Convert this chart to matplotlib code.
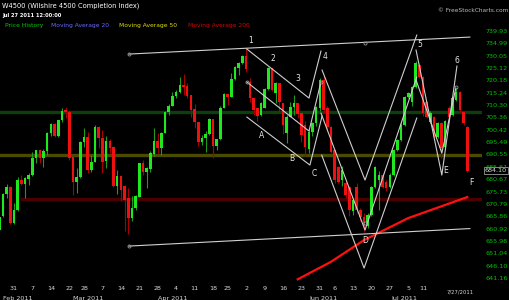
import numpy as np
import pandas as pd
import matplotlib
matplotlib.use("Agg")
import matplotlib.pyplot as plt

# === DATA ===
holidays = ['2011-02-21', '2011-04-22', '2011-05-30', '2011-07-04']
days = pd.bdate_range('2011-01-25', '2011-07-27')
days = days[~days.isin(pd.to_datetime(holidays))]

opens = [660.3, 665.9, 674.7, 677.4, 663.0, 668.3, 680.3, 678.6, 680.7, 682.3,
         689.0, 692.2, 689.0, 691.9, 699.0, 702.6, 698.0, 704.3, 708.3, 707.7,
         689.7, 679.7, 681.5, 695.7, 697.4, 684.3, 687.7, 701.7, 697.3, 688.0,
         696.0, 693.7, 678.0, 681.9, 678.0, 673.0, 665.0, 669.0, 673.7, 687.0,
         683.7, 684.6, 690.7, 695.9, 693.3, 699.2, 707.7, 710.1, 714.0, 715.4,
         718.3, 717.9, 714.3, 708.7, 703.4, 695.4, 697.3, 698.6, 704.7, 694.0,
         696.6, 709.3, 714.6, 713.6, 720.7, 725.0, 727.0, 730.1, 719.7, 713.0,
         709.0, 706.3, 709.3, 716.6, 725.0, 715.0, 719.0, 711.0, 699.0, 705.7,
         709.7, 711.0, 707.0, 702.3, 692.6, 699.7, 703.0, 709.0, 720.3, 709.0,
         701.7, 692.3, 685.7, 680.3, 679.0, 677.7, 668.0, 677.7, 668.3, 665.7,
         662.0, 666.3, 677.7, 680.3, 682.3, 679.7, 677.7, 682.3, 692.3, 696.3,
         702.3, 713.7, 711.7, 717.7, 726.3, 721.7, 711.7, 703.7, 705.7, 697.7,
         703.0, 693.7, 709.0, 706.3, 712.3, 715.7, 707.7, 701.7]
highs = [665.7, 675.0, 678.6, 678.0, 671.0, 681.4, 682.3, 681.7, 683.0, 691.7,
         692.2, 692.6, 692.7, 699.4, 703.0, 703.0, 704.5, 709.0, 709.7, 708.3,
         689.9, 685.0, 696.0, 701.0, 699.4, 690.3, 702.3, 701.9, 700.3, 698.0,
         696.7, 694.0, 684.3, 682.3, 678.5, 677.0, 674.0, 674.2, 687.2, 688.3,
         685.7, 692.0, 701.0, 699.0, 699.5, 708.0, 710.6, 715.7, 716.3, 721.5,
         722.6, 719.0, 714.5, 710.6, 703.6, 698.3, 699.9, 705.0, 704.9, 696.8,
         710.0, 715.0, 714.8, 723.0, 726.0, 727.7, 730.5, 733.0, 721.0, 713.2,
         709.2, 711.5, 717.0, 725.5, 725.3, 719.7, 719.2, 711.2, 706.3, 711.7,
         714.3, 711.2, 707.2, 704.0, 700.5, 703.5, 710.0, 721.0, 722.0, 710.0,
         702.0, 692.5, 686.0, 686.0, 680.0, 678.0, 673.0, 679.0, 669.0, 667.0,
         667.0, 678.0, 686.0, 684.0, 683.0, 680.5, 683.0, 692.7, 696.8, 703.0,
         714.0, 715.5, 718.0, 728.0, 727.0, 722.0, 712.0, 708.0, 706.0, 703.5,
         703.5, 704.5, 710.0, 714.0, 717.0, 716.0, 708.0, 702.0]
lows = [658.0, 665.5, 673.0, 662.8, 662.8, 668.0, 678.3, 673.0, 678.3, 682.0,
        687.0, 687.0, 685.7, 690.3, 698.0, 697.5, 697.7, 703.4, 705.3, 688.5,
        674.3, 675.0, 681.0, 693.7, 683.0, 683.7, 687.5, 693.0, 683.0, 685.0,
        691.0, 677.5, 674.6, 672.0, 660.0, 658.7, 664.0, 668.5, 673.5, 682.3,
        677.0, 683.7, 690.0, 691.0, 690.3, 699.0, 706.3, 709.8, 713.0, 715.0,
        714.3, 713.0, 705.7, 701.0, 694.0, 694.3, 691.4, 698.4, 689.3, 692.3,
        696.4, 709.1, 710.3, 713.4, 720.5, 722.3, 726.8, 723.7, 711.7, 706.3,
        704.0, 706.0, 709.0, 716.4, 716.0, 711.0, 707.7, 698.6, 695.0, 705.5,
        706.3, 705.0, 695.7, 690.0, 691.0, 698.0, 702.0, 708.0, 707.0, 700.0,
        691.0, 679.0, 679.0, 678.0, 673.0, 666.0, 666.5, 667.0, 664.0, 659.5,
        661.0, 666.0, 677.0, 668.3, 677.0, 676.0, 677.0, 682.0, 692.0, 696.0,
        702.0, 713.0, 710.0, 717.0, 721.0, 706.0, 705.0, 703.0, 697.0, 697.0,
        689.0, 693.0, 705.0, 706.0, 712.0, 707.5, 702.5, 683.5]
closes = [665.7, 674.7, 677.4, 663.0, 668.3, 680.3, 678.6, 681.0, 682.3, 689.0,
          692.2, 689.0, 691.9, 699.0, 702.6, 698.0, 704.3, 707.9, 707.7, 689.0,
          679.7, 681.5, 695.7, 697.4, 684.3, 687.7, 701.7, 697.0, 687.7, 696.0,
          693.3, 678.0, 682.0, 676.3, 672.3, 665.0, 669.0, 673.9, 687.0, 683.7,
          685.0, 691.0, 695.9, 693.0, 699.2, 707.7, 710.1, 714.0, 715.7, 718.3,
          717.7, 714.0, 708.3, 703.4, 695.4, 697.3, 698.8, 704.7, 694.0, 696.6,
          709.3, 714.6, 713.6, 720.7, 725.5, 727.0, 730.1, 724.7, 713.0, 708.3,
          706.0, 711.0, 716.6, 725.0, 716.3, 719.0, 711.7, 702.3, 705.7, 709.7,
          711.0, 706.6, 698.3, 693.7, 699.7, 703.0, 709.7, 720.3, 708.3, 701.7,
          691.7, 680.3, 679.7, 684.3, 674.3, 668.3, 672.5, 668.3, 665.7, 662.0,
          666.3, 677.7, 685.7, 682.3, 677.7, 677.0, 682.3, 692.3, 696.3, 702.3,
          713.7, 715.0, 717.7, 727.0, 721.7, 707.0, 705.7, 707.0, 697.7, 703.0,
          693.0, 704.0, 705.7, 713.0, 715.7, 708.3, 703.0, 684.1]

# moving average 200 (read at a few days)
ma200_idx = [81, 90, 99, 111, 127]
ma200_val = [640.6, 647.6, 656.3, 665.1, 673.5]

# horizontal levels
green_level = 707.6
olive_level = 690.2
red_level = 672.85

# drawn trendlines (trading day index from Jan 25, price)
trend_lines = [
    [(35.2, 730.7), (127.7, 737.5)],
    [(35.2, 653.9), (127.7, 660.9)],
    [(67.2, 732.7), (84.05, 713.1), (87.3, 731.9)],
    [(67.2, 719.5), (84.05, 699.9), (87.3, 719.5)],
    [(67.2, 705.5), (84.3, 686.3), (87.6, 705.9)],
    [(87.6, 724.3), (99.25, 680.3), (113.3, 738.3)],
    [(87.3, 707.1), (99.25, 660.3), (113.3, 721.5)],
    [(87.5, 690.3), (99.0, 645.1), (113.3, 705.1)],
    [(113.1, 732.3), (120.1, 682.3), (124.2, 725.9)],
    [(113.1, 720.3), (120.1, 691.1), (123.9, 717.1)],
]
line_dots = [(35.2, 730.7), (35.2, 653.9), (67.2, 719.5), (87.3, 719.5),
             (99.25, 735.1), (99.25, 663.1), (124.0, 717.4)]

wave_labels = ['1', '2', '3', '4', 'A', 'B', 'C', 'D', '5', '6', 'E', 'F']
wave_x = [68.2, 74.2, 81.15, 88.4, 71.2, 79.4, 85.4, 99.25, 114.2, 124.1, 121.15, 128.2]
wave_y = [736.05, 728.85, 721.0, 729.9, 698.3, 689.1, 683.1, 656.0, 734.7, 728.3, 684.3, 679.4]

price_ticks = [739.93, 734.99, 730.05, 725.12, 720.18, 715.24, 710.30, 705.36, 700.42,
               695.49, 690.55, 685.61, 680.67, 675.73, 670.79, 665.86, 660.92, 655.98,
               651.04, 646.10, 641.16]
last_price = 684.10

day_ticks = ['2011-01-31', '2011-02-07', '2011-02-14', '2011-02-22', '2011-02-28',
             '2011-03-07', '2011-03-14', '2011-03-21', '2011-03-28', '2011-04-04',
             '2011-04-11', '2011-04-18', '2011-04-25', '2011-05-02', '2011-05-09',
             '2011-05-16', '2011-05-23', '2011-05-31', '2011-06-06', '2011-06-13',
             '2011-06-20', '2011-06-27', '2011-07-05', '2011-07-11']
month_ticks = ['2011-02-01', '2011-03-01', '2011-04-01', '2011-05-02', '2011-06-01', '2011-07-01']
month_labels = ['Feb 2011', 'Mar 2011', 'Apr 2011', 'May 2011', 'Jun 2011', 'Jul 2011']

# === STYLE ===
UP = '#1ee81e'
DOWN = '#f01010'
UP_WICK = '#1f9a1f'
DOWN_WICK = '#a80000'
LINE = '#cfcfcf'
AXIS_GREEN = '#00c400'
TEXT = '#d8d8d8'
FS = 4.6

fig = plt.figure(figsize=(5.1, 3.0), dpi=100, facecolor='black')
ax = fig.add_axes([0, 17 / 300, 482 / 510, 283 / 300], facecolor='black')
ax.set_xlim(0.2, 131.0)
ax.set_ylim(639.13, 752.33)

x = np.arange(len(days))
o, h, l, c = map(np.array, (opens, highs, lows, closes))
up = c >= o

# --- levels ---
ax.axhline(green_level, color='#0c3f0c', lw=2.4, zorder=1)
ax.axhline(olive_level, color='#4a4a00', lw=2.4, zorder=1)
ax.plot([6.2, 131], [red_level, red_level], color='#4a0000', lw=2.4, zorder=1)

# --- candles ---
ax.vlines(x[up], l[up], h[up], color=UP_WICK, lw=0.8, zorder=2)
ax.vlines(x[~up], l[~up], h[~up], color=DOWN_WICK, lw=0.8, zorder=2)
body_lo = np.minimum(o, c)
body_h = np.maximum(np.abs(c - o), 0.4)
ax.bar(x[up], body_h[up], bottom=body_lo[up], width=0.7, color=UP, lw=0, zorder=3)
ax.bar(x[~up], body_h[~up], bottom=body_lo[~up], width=0.7, color=DOWN, lw=0, zorder=3)

# --- MA 200 ---
ax.plot(ma200_idx, ma200_val, color='#ff1010', lw=1.6, zorder=4)

# --- trendlines ---
for pts in trend_lines:
    xs, ys = zip(*pts)
    ax.plot(xs, ys, color=LINE, lw=0.8, zorder=5)
dx, dy = zip(*line_dots)
ax.plot(dx, dy, 'o', ms=2.2, mfc='none', mec='#999999', mew=0.6, zorder=6)

for lab, wx, wy in zip(wave_labels, wave_x, wave_y):
    ax.text(wx, wy, lab, color='#e6e6e6', fontsize=5.5, ha='center', va='center', zorder=7)

# --- axes ---
for s in ax.spines.values():
    s.set_visible(False)
ax.yaxis.tick_right()
ax.set_yticks(price_ticks)
ax.set_yticklabels([f'{v:.2f}' for v in price_ticks])
ax.tick_params(axis='y', length=0, pad=2.5, labelsize=FS, labelcolor=AXIS_GREEN)

pos = {d: i for i, d in enumerate(days.strftime('%Y-%m-%d'))}
ax.set_xticks([pos[d] for d in day_ticks])
ax.set_xticklabels([str(pd.Timestamp(d).day) for d in day_ticks])
ax.set_xticks([pos[d] for d in month_ticks], minor=True)
ax.set_xticklabels(month_labels, minor=True)
ax.tick_params(axis='x', which='major', length=0, pad=2.5, labelsize=FS, labelcolor=TEXT)
ax.tick_params(axis='x', which='minor', length=0, pad=9.5, labelsize=FS, labelcolor=TEXT)

ax.text(1.006, last_price, f'{last_price:.2f}', transform=ax.get_yaxis_transform(),
        color='#dddddd', fontsize=FS, va='center', ha='left', zorder=10,
        bbox=dict(boxstyle='square,pad=0.15', fc='black', ec='#9a9a9a', lw=0.6))

# --- header ---
fig.text(2 / 510, 1 - 5.5 / 300, 'W4500 (Wilshire 4500 Completion Index)', color='white',
         fontsize=4.8, va='center', ha='left')
fig.text(2 / 510, 1 - 15 / 300, 'Jul 27 2011 12:00:00', color='white', fontsize=3.7,
         va='center', ha='left', fontweight='bold')
legend_items = [('Price History', '#00cc00', 5), ('Moving Average 20', '#6a6aff', 51),
                ('Moving Average 50', '#e0e000', 119), ('Moving Average 200', '#e00000', 188)]
for txt, col, px in legend_items:
    fig.text(px / 510, 1 - 25.5 / 300, txt, color=col, fontsize=4.3, va='center', ha='left')
fig.text(508 / 510, 1 - 10 / 300, '\u00a9 FreeStockCharts.com', color='#bbbbbb', fontsize=4.2,
         va='center', ha='right')
fig.text(460 / 510, 1 - 292 / 300, '7/27/2011', color=TEXT, fontsize=3.8, va='center', ha='center')

fig.savefig('out.png', dpi=100, facecolor='black')
